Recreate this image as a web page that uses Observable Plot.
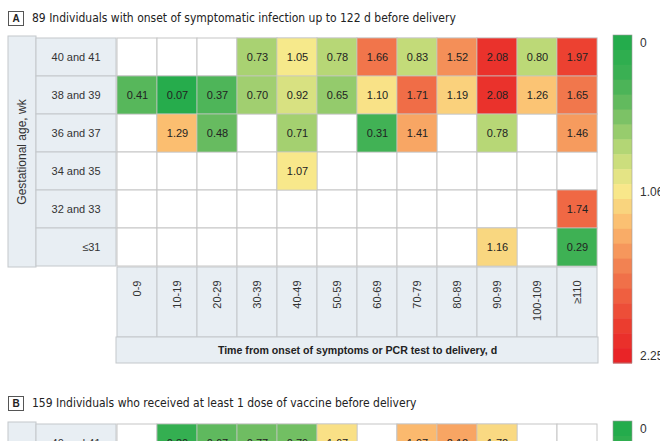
<!DOCTYPE html>
<html><head><meta charset="utf-8">
<script src="https://cdn.jsdelivr.net/npm/d3@7"></script>
<script src="https://cdn.jsdelivr.net/npm/@observablehq/plot@0.6"></script>
<style>
body{margin:0;background:#fff;overflow:hidden;width:660px;height:441px;position:relative;font-family:"Liberation Sans",Arial,sans-serif;color:#222}
.ttl{position:absolute;left:8px;height:16px;font-family:"Liberation Sans Narrow","DejaVu Sans Condensed","Liberation Sans",sans-serif;font-size:12px;color:#222;white-space:nowrap;display:flex;align-items:center}
.box{display:inline-block;box-sizing:border-box;border:1px solid #555;width:16px;height:15px;line-height:13px;text-align:center;font-weight:bold;font-size:10px;margin-right:8px;font-family:"Liberation Sans",Arial,sans-serif}
.panel{position:absolute;left:0}
</style></head><body>
<div class="ttl" style="top:10px"><span class="box">A</span><span id="titleA"></span></div>
<div class="panel" id="pA" style="top:30px"></div>
<div class="ttl" style="top:395px"><span class="box">B</span><span id="titleB"></span></div>
<div class="panel" id="pB" style="top:416px"></div>
<script>
// ---------- data ----------
const titleA = "89 Individuals with onset of symptomatic infection up to 122 d before delivery";
const titleB = "159 Individuals who received at least 1 dose of vaccine before delivery";
const xTitleA = "Time from onset of symptoms or PCR test to delivery, d";
const yTitle = "Gestational age, wk";
const rows = ["40 and 41", "38 and 39", "36 and 37", "34 and 35", "32 and 33", "\u226431"];
const cols = ["0-9", "10-19", "20-29", "30-39", "40-49", "50-59", "60-69", "70-79", "80-89", "90-99", "100-109", "\u2265110"];
const valuesA = [
  [null, null, null, 0.73, 1.05, 0.78, 1.66, 0.83, 1.52, 2.08, 0.80, 1.97],
  [0.41, 0.07, 0.37, 0.70, 0.92, 0.65, 1.10, 1.71, 1.19, 2.08, 1.26, 1.65],
  [null, 1.29, 0.48, null, 0.71, null, 0.31, 1.41, null, 0.78, null, 1.46],
  [null, null, null, null, 1.07, null, null, null, null, null, null, null],
  [null, null, null, null, null, null, null, null, null, null, null, 1.74],
  [null, null, null, null, null, null, null, null, null, 1.16, null, 0.29]
];
const valuesB = [
  [null, 0.30, 0.67, 0.77, 0.79, 1.67, null, 1.97, 2.12, 1.72, null, null],
  [], [], [], [], []
];
const legendTicksA = [0, 1.06, 2.25];
const legendTicksB = [0];

// ---------- build ----------
document.getElementById("titleA").textContent = titleA;
document.getElementById("titleB").textContent = titleB;

function toTable(values) {
  const out = [];
  values.forEach((r, i) => r.forEach((v, j) => { if (v != null) out.push({row: rows[i], col: cols[j], v}); }));
  return out;
}

const colorRange = ["#1fab4a", "#3fb154", "#6bbc61", "#bcd977", "#f8ea8c", "#fbbc6f", "#f27f50", "#eb3c2f", "#e91e25"];
const stopsA = [0, 0.3, 0.5, 0.8, 1.06, 1.3, 1.6, 2.0, 2.25];
const stopsB = [0, 0.45, 0.75, 1.2, 1.59, 1.95, 2.4, 3.0, 3.38];

const BG = "#e8eef3", LINE = "#c4c8cb";
const TICK_H = 70, TITLE_H = 26;

function backdrop(index, s, v, dim) {
  const g = d3.create("svg:g").attr("fill", BG).attr("stroke", LINE);
  const x = s.x, y = s.y;
  const bw = x.bandwidth(), bh = y.bandwidth();
  const top = dim.marginTop, bot = dim.height - dim.marginBottom;
  const L = dim.marginLeft, R = dim.width - dim.marginRight;
  g.append("rect").attr("x", L - 108).attr("y", top).attr("width", 28).attr("height", bot - top);
  for (const r of y.domain()) g.append("rect").attr("x", L - 80).attr("y", y(r)).attr("width", 80).attr("height", bh);
  for (const c of x.domain()) g.append("rect").attr("x", x(c)).attr("y", bot).attr("width", bw).attr("height", TICK_H);
  g.append("rect").attr("x", L).attr("y", bot + TICK_H).attr("width", R - L).attr("height", TITLE_H);
  return g.node();
}

function legendMark(stops, ticks) {
  return (index, s, v, dim) => {
    const g = d3.create("svg:g");
    const top = dim.marginTop - 1, bot = dim.height - dim.marginBottom + TICK_H + TITLE_H;
    const x0 = dim.width - dim.marginRight + 15, w = 19;
    const d0 = stops[0], d1 = stops[stops.length - 1];
    const n = 22, bh = (bot - top) / n;
    for (let i = 0; i < n; i++) {
      g.append("rect").attr("x", x0).attr("y", top + i * bh).attr("width", w).attr("height", bh + 0.5)
        .attr("fill", s.color(d0 + (i + 0.5) / n * (d1 - d0)));
    }
    g.append("rect").attr("x", x0).attr("y", top).attr("width", w).attr("height", bot - top)
      .attr("fill", "none").attr("stroke", "#9a9a9a").attr("stroke-width", 0.6);
    for (const t of ticks) {
      const i = Math.min(n - 1, Math.floor((t - d0) / (d1 - d0) * n));
      g.append("text").attr("x", x0 + w + 8).attr("y", top + (i + 0.5) * bh).attr("dy", "0.35em")
        .attr("text-anchor", "start").attr("fill", "#333").attr("font-size", 12).text(String(t));
    }
    return g.node();
  };
}

function panel(el, values, stops, ticks, xTitle) {
  const data = toTable(values);
  const rowH = 38.5, mt = 6, mb = TICK_H + TITLE_H + 8;
  const chart = Plot.plot({
    width: 660,
    height: mt + rows.length * rowH + mb,
    marginTop: mt, marginLeft: 116, marginRight: 62, marginBottom: mb,
    style: {fontFamily: "'Liberation Sans', Arial, sans-serif", fontSize: "11px", color: "#333", background: "transparent"},
    x: {domain: cols, padding: 0},
    y: {domain: rows, padding: 0},
    color: {type: "linear", domain: stops, range: colorRange, interpolate: "rgb", clamp: true, legend: false},
    marks: [
      backdrop,
      Plot.cell(d3.cross(cols, rows), {x: d => d[0], y: d => d[1], fill: "white", stroke: "#c6c6c6"}),
      Plot.cell(data, {x: "col", y: "row", fill: "v", stroke: "#c6c6c6", strokeOpacity: 0.7}),
      Plot.text(data, {x: "col", y: "row", text: d => d.v.toFixed(2), fill: "#222", fontSize: 11}),
      Plot.axisX({anchor: "bottom", tickRotate: -90, tickSize: 0, tickPadding: 13, label: null, fontSize: 11}),
      Plot.axisY({anchor: "left", tickSize: 0, tickPadding: 16, label: null, fontSize: 11}),
      Plot.text([xTitle], {frameAnchor: "bottom", textAnchor: "middle", lineAnchor: "middle", dy: TICK_H + TITLE_H / 2, fontWeight: "bold", fontSize: 10.6, fill: "#222"}),
      Plot.text([yTitle], {frameAnchor: "left", textAnchor: "middle", lineAnchor: "middle", dx: -94, rotate: -90, fontSize: 12, fill: "#333"}),
      legendMark(stops, ticks)
    ]
  });
  document.getElementById(el).appendChild(chart);
}

panel("pA", valuesA, stopsA, legendTicksA, xTitleA);
panel("pB", valuesB, stopsB, legendTicksB, xTitleA);
</script>
</body></html>
